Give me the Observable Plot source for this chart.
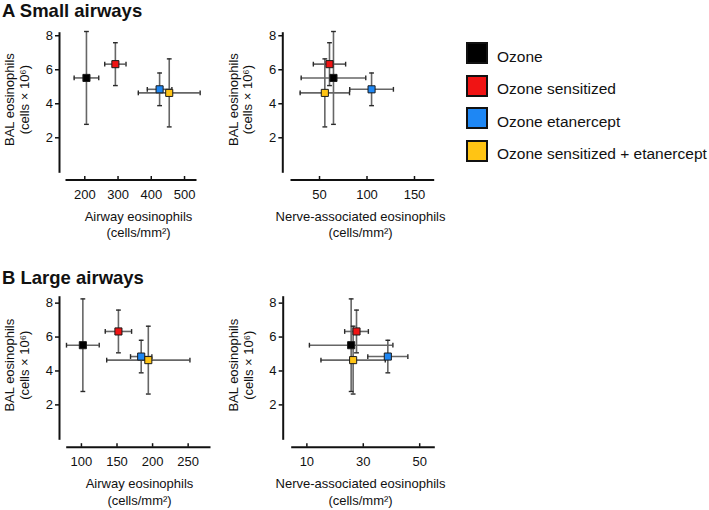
<!DOCTYPE html>
<html>
<head>
<meta charset="utf-8">
<script src="https://cdn.jsdelivr.net/npm/d3@7"></script>
<script src="https://cdn.jsdelivr.net/npm/@observablehq/plot@0.6"></script>
<style>
  html, body { margin: 0; padding: 0; background: #fff; }
  body { font-family: "Liberation Sans", Arial, Helvetica, sans-serif; color: #111; }
  #root { position: relative; width: 709px; height: 510px; overflow: hidden; background: #fff; }
  .panel { position: absolute; }
  .panel svg { background: transparent !important; overflow: visible; }
  .title { position: absolute; left: 2px; font-weight: bold; font-size: 18.5px; line-height: 18px; white-space: nowrap; }
  .sw { position: absolute; width: 22px; height: 22px; box-sizing: border-box; border: 2.5px solid #111; }
  .lt { position: absolute; font-size: 15.5px; line-height: 22px; white-space: nowrap; }
</style>
</head>
<body>
<div id="root"></div>
<script>
// ---------- data ----------
const groups = ["Ozone", "Ozone sensitized", "Ozone etanercept", "Ozone sensitized + etanercept"];
const colors = ["#000000", "#f01414", "#1e87f4", "#ffc414"];

// BAL eosinophils (cells x 10^6), mean and error
const balMean = [5.52, 6.33, 4.85, 4.64];
const balErr  = [2.73, 1.26, 0.96, 2.0];

// A Small airways
const smallAirwayMean = [205, 292, 425, 454];
const smallAirwayErr  = [37, 32, 37, 93];
const smallNerveMean  = [64.7, 60.5, 104.8, 55.6];
const smallNerveErr   = [34, 17, 23, 26];

// B Large airways
const largeAirwayMean = [102, 152, 184, 194];
const largeAirwayErr  = [23, 18.5, 15, 58.5];
const largeNerveMean  = [25.7, 27.6, 38.7, 26.4];
const largeNerveErr   = [14.8, 4.2, 7.1, 11.4];

// tick labels
const balTicks = [2, 4, 6, 8];
const smallAirwayTicks = [200, 300, 400, 500];
const smallNerveTicks = [50, 100, 150];
const largeAirwayTicks = [100, 150, 200, 250];
const largeNerveTicks = [10, 30, 50];

const titles = ["A Small airways", "B Large airways"];
const yLabel = "BAL eosinophils\n(cells × 10⁶)";
const airwayLabel = "Airway eosinophils\n(cells/mm²)";
const nerveLabel = "Nerve-associated eosinophils\n(cells/mm²)";

// ---------- helpers ----------
const hCap = {draw(ctx, size) { const r = Math.sqrt(size / Math.PI); ctx.moveTo(-r, 0); ctx.lineTo(r, 0); }};
const vCap = {draw(ctx, size) { const r = Math.sqrt(size / Math.PI); ctx.moveTo(0, -r); ctx.lineTo(0, r); }};

function panel(cfg) {
  const data = groups.map((g, i) => ({
    g, x: cfg.xMean[i], xe: cfg.xErr[i], y: balMean[i], ye: balErr[i], c: colors[i]
  }));
  const G = cfg.geom;
  const errStroke = "#666666";
  const capStroke = "#2a2a2a";
  return Plot.plot({
    width: G.width, height: G.height,
    marginLeft: G.marginLeft, marginRight: G.marginRight,
    marginTop: G.marginTop, marginBottom: G.marginBottom,
    style: {fontFamily: "'Liberation Sans', Arial, sans-serif", fontSize: "13px", color: "#111", background: "transparent", overflow: "visible"},
    x: {domain: cfg.xDomain, insetLeft: G.insetLeft, insetRight: 0},
    y: {domain: cfg.yDomain, insetBottom: G.insetBottom, insetTop: 0},
    color: {type: "identity"},
    marks: [
      Plot.frame({anchor: "left", insetBottom: G.insetBottom, stroke: "#111", strokeWidth: 2}),
      Plot.frame({anchor: "bottom", insetLeft: G.insetLeft, stroke: "#111", strokeWidth: 2}),
      Plot.axisY({ticks: balTicks, tickSize: 4, tickPadding: 2.6, label: null, strokeWidth: 1.5, stroke: "#111"}),
      Plot.axisX({ticks: cfg.xTicks, tickSize: 0, tickPadding: 10, label: null}),
      Plot.axisX({ticks: cfg.xTicks, tickSize: 3.5, dy: -3.5, tickFormat: () => "", label: null, strokeWidth: 1.5, stroke: "#111"}),
      // error bars
      Plot.ruleY(data, {y: "y", x1: d => d.x - d.xe, x2: d => d.x + d.xe, stroke: errStroke, strokeWidth: 1.6}),
      Plot.ruleX(data, {x: "x", y1: d => d.y - d.ye, y2: d => d.y + d.ye, stroke: errStroke, strokeWidth: 1.6}),
      Plot.dot(data, {x: d => d.x - d.xe, y: "y", symbol: vCap, r: 2.4, fill: "none", stroke: capStroke, strokeWidth: 1.4}),
      Plot.dot(data, {x: d => d.x + d.xe, y: "y", symbol: vCap, r: 2.4, fill: "none", stroke: capStroke, strokeWidth: 1.4}),
      Plot.dot(data, {x: "x", y: d => d.y - d.ye, symbol: hCap, r: 2.4, fill: "none", stroke: capStroke, strokeWidth: 1.4}),
      Plot.dot(data, {x: "x", y: d => d.y + d.ye, symbol: hCap, r: 2.4, fill: "none", stroke: capStroke, strokeWidth: 1.4}),
      // group markers
      Plot.dot(data, {x: "x", y: "y", symbol: "square", r: 4, fill: "c", stroke: "#1a1a1a", strokeWidth: 1}),
      // axis labels
      Plot.text([cfg.xLabel], {text: d => d, frameAnchor: "bottom", lineAnchor: "top", textAnchor: "middle", dx: cfg.xLabelDx, dy: 28.5, lineHeight: 1.3, fontSize: 13, fill: "#111"}),
      Plot.text([yLabel], {text: d => d, frameAnchor: "left", rotate: -90, textAnchor: "middle", lineAnchor: "middle", dx: -42.5, dy: -7, lineHeight: 1.12, fontSize: 13, fill: "#111"})
    ]
  });
}

const root = document.getElementById("root");

const panels = [
  {left: 0, top: 0, xMean: smallAirwayMean, xErr: smallAirwayErr, xDomain: [145, 533], xTicks: smallAirwayTicks, xLabel: airwayLabel, xLabelDx: 11, yDomain: [0, 8.15],
   geom: {width: 230, height: 245, marginLeft: 59, marginRight: 35, marginTop: 32.7, marginBottom: 65.5, insetLeft: 7, insetBottom: 8.2}},
  {left: 225, top: 0, xMean: smallNerveMean, xErr: smallNerveErr, xDomain: [20.5, 169.7], xTicks: smallNerveTicks, xLabel: nerveLabel, xLabelDx: 2.5, yDomain: [0, 8.15],
   geom: {width: 235, height: 245, marginLeft: 57.3, marginRight: 27.3, marginTop: 32.7, marginBottom: 65.5, insetLeft: 8.7, insetBottom: 8.2}},
  {left: 0, top: 250, xMean: largeAirwayMean, xErr: largeAirwayErr, xDomain: [80, 280], xTicks: largeAirwayTicks, xLabel: airwayLabel, xLabelDx: 5, yDomain: [0, 8.35],
   geom: {width: 230, height: 260, marginLeft: 59, marginRight: 21, marginTop: 46.7, marginBottom: 63.3, insetLeft: 7.7, insetBottom: 8.4}},
  {left: 225, top: 250, xMean: largeNerveMean, xErr: largeNerveErr, xDomain: [4.8, 55], xTicks: largeNerveTicks, xLabel: nerveLabel, xLabelDx: 2, yDomain: [0, 8.35],
   geom: {width: 235, height: 260, marginLeft: 57.7, marginRight: 26.7, marginTop: 46.7, marginBottom: 63.3, insetLeft: 9, insetBottom: 8.4}}
];

for (const p of panels) {
  const div = document.createElement("div");
  div.className = "panel";
  div.style.left = p.left + "px";
  div.style.top = p.top + "px";
  div.appendChild(panel(p));
  root.appendChild(div);
}

// titles
const titleTops = [2, 269];
titles.forEach((t, i) => {
  const d = document.createElement("div");
  d.className = "title";
  d.style.top = titleTops[i] + "px";
  d.textContent = t;
  root.appendChild(d);
});

// legend
groups.forEach((g, i) => {
  const top = 42 + i * 32.5;
  const sw = document.createElement("div");
  sw.className = "sw";
  sw.style.left = "466px";
  sw.style.top = top + "px";
  sw.style.background = colors[i];
  root.appendChild(sw);
  const lt = document.createElement("div");
  lt.className = "lt";
  lt.style.left = "497px";
  lt.style.top = (top + 3.6) + "px";
  lt.textContent = g;
  root.appendChild(lt);
});
</script>
</body>
</html>
